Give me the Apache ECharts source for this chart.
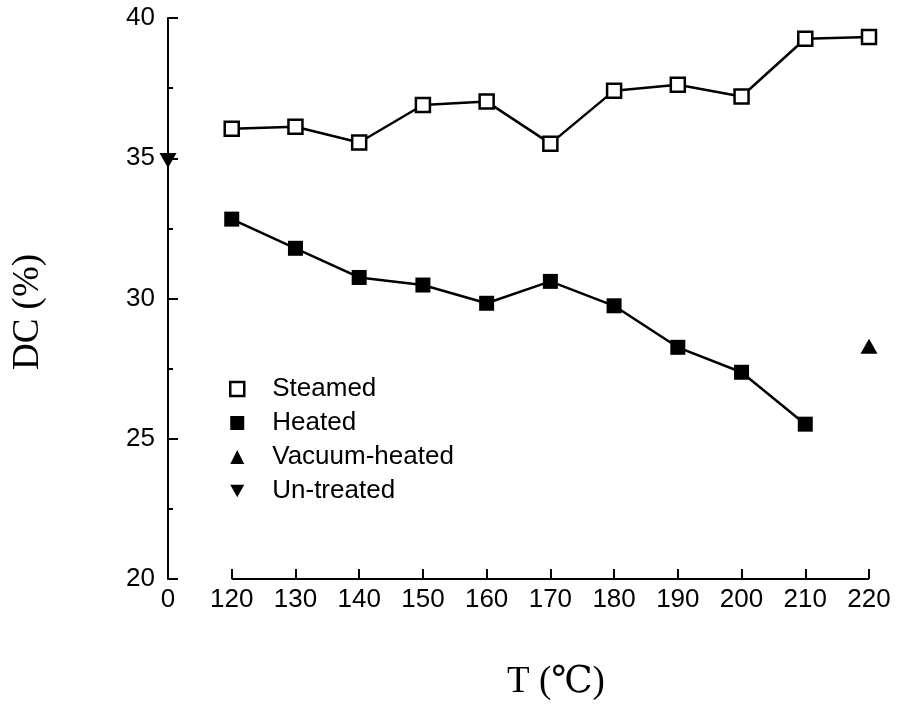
<!DOCTYPE html>
<html><head><meta charset="utf-8">
<script src="https://cdn.jsdelivr.net/npm/echarts@6/dist/echarts.min.js"></script>
<style>html,body{margin:0;padding:0;background:#fff}#c{width:899px;height:707px}</style>
</head><body><div id="c"></div>
<script>
const categories = ['0','120','130','140','150','160','170','180','190','200','210','220'];
const yTicks = [20, 25, 30, 35, 40];
const steamedX = ['120','130','140','150','160','170','180','190','200','210','220'];
const steamed = [36.05, 36.12, 35.56, 36.9, 37.02, 35.52, 37.41, 37.62, 37.2, 39.26, 39.32];
const heatedX = ['120','130','140','150','160','170','180','190','200','210'];
const heated = [32.83, 31.79, 30.75, 30.48, 29.83, 30.61, 29.74, 28.26, 27.37, 25.52];
const vacuumX = ['220'];
const vacuum = [28.3];
const untreatedX = ['0'];
const untreated = [34.92];
const xTitle = 'T (℃)';
const yTitle = 'DC (%)';

const pair = (xs, ys) => xs.map((x, i) => [x, ys[i]]);
const sans = 'Liberation Sans, Arial, sans-serif';
const serif = 'Liberation Serif, DejaVu Serif, Noto Sans CJK SC, serif';
const invTri = 'path://M0,0 L10,0 L5,9 Z';

const chart = echarts.init(document.getElementById('c'), null, {renderer: 'canvas'});
chart.setOption({
  backgroundColor: '#fff',
  animation: false,
  grid: {left: 168, right: 30, top: 18, bottom: 128, containLabel: false, outerBoundsMode: 'none'},
  legend: {
    orient: 'vertical', left: 224, top: 371, itemGap: 8, itemWidth: 14, itemHeight: 14,
    textStyle: {fontFamily: sans, fontSize: 26, color: '#000', padding: [0, 0, 0, 23]},
    data: [
      {name: 'Steamed', icon: 'rect', itemStyle: {color: '#fff', borderColor: '#000', borderWidth: 2.5}},
      {name: 'Heated', icon: 'rect', itemStyle: {color: '#000', borderWidth: 0}},
      {name: 'Vacuum-heated', icon: 'triangle', itemStyle: {color: '#000', borderWidth: 0, opacity: 1}},
      {name: 'Un-treated', icon: invTri, itemStyle: {color: '#000', borderWidth: 0, opacity: 1}}
    ]
  },
  graphic: [
    {type: 'text', x: 556, y: 682, silent: true,
     style: {text: xTitle, font: '37px ' + serif, fill: '#000', textAlign: 'center', textVerticalAlign: 'middle'}},
    {type: 'text', x: 28, y: 312, rotation: Math.PI / 2, silent: true,
     style: {text: yTitle, font: '37px ' + serif, fill: '#000', textAlign: 'center', textVerticalAlign: 'middle'}}
  ],
  xAxis: {
    type: 'category', data: categories, boundaryGap: false,
    axisLine: {show: false},
    axisTick: {show: true, inside: true, length: 10, interval: (i) => i > 0, lineStyle: {color: '#000', width: 2}},
    axisLabel: {fontFamily: sans, fontSize: 26, color: '#000', margin: 8, interval: 0},
    splitLine: {show: false}
  },
  yAxis: {
    type: 'value', min: yTicks[0], max: yTicks[yTicks.length - 1], interval: 5,
    axisLine: {show: true, lineStyle: {color: '#000', width: 2}},
    axisTick: {show: true, inside: true, length: 10, lineStyle: {color: '#000', width: 2}},
    minorTick: {show: true, splitNumber: 2, length: 5, lineStyle: {color: '#000', width: 2}},
    axisLabel: {fontFamily: sans, fontSize: 26, color: '#000', margin: 13},
    splitLine: {show: false}
  },
  series: [
    {
      name: 'Steamed', type: 'line', data: pair(steamedX, steamed),
      symbol: 'rect', symbolSize: 14, showAllSymbol: true,
      itemStyle: {color: '#fff', borderColor: '#000', borderWidth: 2.5},
      lineStyle: {color: '#000', width: 2.5}, z: 3
    },
    {
      name: 'Heated', type: 'line', data: pair(heatedX, heated),
      symbol: 'rect', symbolSize: 15, showAllSymbol: true,
      itemStyle: {color: '#000', borderWidth: 0},
      lineStyle: {color: '#000', width: 2.5}, z: 3,
      markLine: {
        silent: true, symbol: 'none', label: {show: false},
        lineStyle: {color: '#000', width: 2, type: 'solid'},
        data: [[{coord: ['120', yTicks[0]]}, {coord: ['220', yTicks[0]]}]]
      }
    },
    {
      name: 'Vacuum-heated', type: 'scatter', data: pair(vacuumX, vacuum),
      symbol: 'triangle', symbolSize: [17, 15], itemStyle: {color: '#000', opacity: 1}
    },
    {
      name: 'Un-treated', type: 'scatter', data: pair(untreatedX, untreated),
      symbol: invTri, symbolSize: [17, 15], itemStyle: {color: '#000', opacity: 1}, z: 4
    }
  ]
});
</script></body></html>
